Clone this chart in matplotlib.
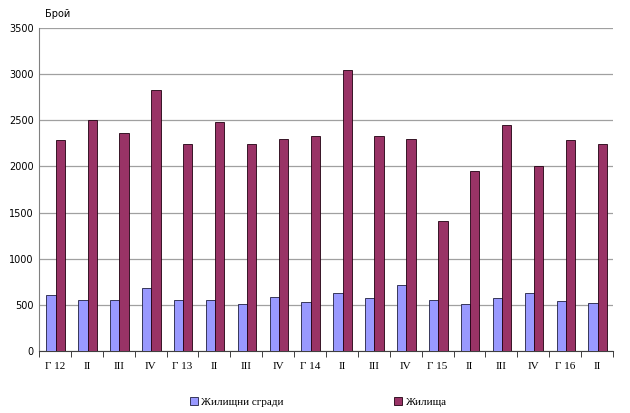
import numpy as np
import matplotlib.pyplot as plt

quarters = ["Г 12", "II", "III", "IV", "Г 13", "II", "III", "IV", "Г 14", "II",
            "III", "IV", "Г 15", "II", "III", "IV", "Г 16", "II"]
buildings = [610, 548, 558, 681, 548, 558, 514, 584, 529, 627,
             572, 717, 551, 507, 572, 627, 540, 522]
dwellings = [2289, 2500, 2361, 2830, 2242, 2480, 2242, 2300, 2329, 3043,
             2329, 2300, 1408, 1946, 2455, 2000, 2289, 2246]

fig = plt.figure(figsize=(6.3, 4.13), dpi=100)
ax = fig.add_axes([0.062, 0.150, 0.911, 0.782])

x = np.arange(len(quarters))
w = 0.29
ax.bar(x - w / 2 + 0.02, buildings, w, color="#9999FF", edgecolor="#202040", linewidth=0.6,
       label="Жилищни сгради", zorder=3)
ax.bar(x + w / 2 + 0.02, dwellings, w, color="#993366", edgecolor="#200010", linewidth=0.6,
       label="Жилища", zorder=3)

ax.set_xlim(-0.5, len(quarters) - 0.5)
ax.set_ylim(0, 3500)
ax.set_yticks(np.arange(0, 3501, 500))
ax.yaxis.grid(True, color="#a0a0a0", linewidth=0.9, zorder=0)
for s in ["top", "right"]:
    ax.spines[s].set_visible(False)
ax.spines["left"].set_color("#808080")
ax.spines["bottom"].set_color("#404040")

ax.set_xticks(x)
ax.set_xticklabels(quarters, family="Liberation Serif", fontsize=8)
ax.tick_params(axis="x", length=0, pad=8)
ax.set_xticks(np.arange(-0.5, len(quarters)), minor=True)
ax.tick_params(axis="x", which="minor", length=4, direction="out", color="#202020")
ax.tick_params(axis="y", length=0, labelsize=7, pad=4)
for t in ax.get_yticklabels():
    t.set_family("DejaVu Sans")

fig.text(0.072, 0.965, "Брой", fontsize=7, ha="left", va="center")

leg = fig.legend(loc="center", bbox_to_anchor=(0.505, 0.027), ncol=2, frameon=False,
                 prop={"family": "Liberation Serif", "size": 8},
                 handlelength=0.7, handleheight=0.7, handletextpad=0.3,
                 columnspacing=10)

fig.savefig("out.png", dpi=100)
